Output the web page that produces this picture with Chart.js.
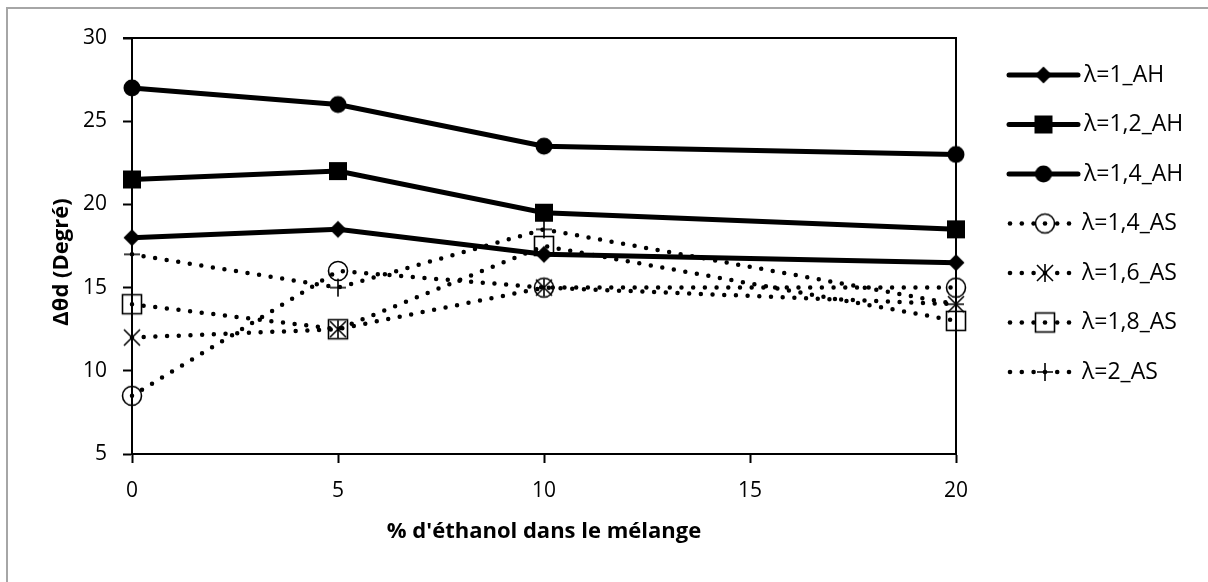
<!DOCTYPE html>
<html>
<head>
<meta charset="utf-8">
<title>Δθd vs % d'éthanol</title>
<script src="https://cdn.jsdelivr.net/npm/chart.js@4.4.1/dist/chart.umd.min.js"></script>
<style>
  html, body { margin: 0; padding: 0; background: #fff; }
  #wrap { width: 1208px; height: 582px; }
</style>
</head>
<body>
<div id="wrap"><canvas id="chart" width="1208" height="582"></canvas></div>
<script>
// data
const xValues = [0, 5, 10, 20];
const seriesNames = ['λ=1_AH', 'λ=1,2_AH', 'λ=1,4_AH', 'λ=1,4_AS', 'λ=1,6_AS', 'λ=1,8_AS', 'λ=2_AS'];
const ah10 = [18, 18.5, 17, 16.5];
const ah12 = [21.5, 22, 19.5, 18.5];
const ah14 = [27, 26, 23.5, 23];
const as14 = [8.5, 16, 15, 15];
const as16 = [12, 12.5, 15, 14];
const as18 = [14, 12.5, 17.5, 13];
const as20 = [17, 15, 18.5, 14];
const yTicks = [5, 10, 15, 20, 25, 30];
const xTicks = [0, 5, 10, 15, 20];
const yTitle = 'Δθd (Degré)';
const xTitle = "% d'éthanol dans le mélange";

const FONT = "'Open Sans', 'DejaVu Sans', sans-serif";

// markers drawn once on small canvases, used for points and legend
function makeMarker(kind) {
    const c = document.createElement('canvas');
    c.width = 24; c.height = 24;
    const g = c.getContext('2d');
    const m = 12;
    g.fillStyle = '#000';
    g.strokeStyle = '#000';
    g.lineWidth = 1.6;
    g.beginPath();
    if (kind === 'diamond') {
        g.moveTo(m, m - 8.5); g.lineTo(m + 8.5, m); g.lineTo(m, m + 8.5); g.lineTo(m - 8.5, m);
        g.closePath(); g.fill();
    } else if (kind === 'square') {
        g.fillRect(m - 9, m - 9, 18, 18);
    } else if (kind === 'circle') {
        g.arc(m, m, 8.5, 0, Math.PI * 2); g.fill();
    } else if (kind === 'ocircle') {
        g.arc(m, m, 9.5, 0, Math.PI * 2); g.stroke();
    } else if (kind === 'star') {
        g.moveTo(m - 8, m - 8); g.lineTo(m + 8, m + 8);
        g.moveTo(m + 8, m - 8); g.lineTo(m - 8, m + 8);
        g.moveTo(m, m - 9); g.lineTo(m, m + 9);
        g.stroke();
    } else if (kind === 'osquare') {
        g.strokeRect(m - 9.5, m - 9.5, 19, 19);
    } else if (kind === 'plus') {
        g.moveTo(m, m - 9); g.lineTo(m, m + 9);
        g.moveTo(m - 8, m); g.lineTo(m + 8, m);
        g.stroke();
    }
    return c;
}

const markerKinds = ['diamond', 'square', 'circle', 'ocircle', 'star', 'osquare', 'plus'];
const markers = markerKinds.map(makeMarker);
const allValues = [ah10, ah12, ah14, as14, as16, as18, as20];
const dotted = [false, false, false, true, true, true, true];

const datasets = allValues.map((vals, i) => ({
    label: seriesNames[i],
    data: vals.map((v, j) => ({ x: xValues[j], y: v })),
    borderColor: '#000',
    backgroundColor: '#000',
    borderWidth: dotted[i] ? 4.5 : 5,
    borderDash: dotted[i] ? [0, 11.7] : [],
    borderCapStyle: dotted[i] ? 'round' : 'butt',
    pointStyle: markers[i],
    pointRadius: 10,
    pointHoverRadius: 10,
    tension: 0,
    clip: false
}));

// frame, plot area border, y title and legend
const decor = {
    id: 'decor',
    beforeDraw(chart) {
        const ctx = chart.ctx;
        ctx.save();
        ctx.fillStyle = '#fff';
        ctx.fillRect(0, 0, chart.width, chart.height);
        ctx.strokeStyle = '#a6a6a6';
        ctx.lineWidth = 2;
        ctx.beginPath();
        ctx.moveTo(7, chart.height);
        ctx.lineTo(7, 8);
        ctx.lineTo(chart.width, 8);
        ctx.stroke();
        ctx.restore();
    },
    beforeDatasetsDraw(chart) {
        const a = chart.chartArea;
        const ctx = chart.ctx;
        ctx.save();
        ctx.strokeStyle = '#000';
        ctx.lineWidth = 2;
        ctx.beginPath();
        ctx.moveTo(a.left - 9, a.top);
        ctx.lineTo(a.right, a.top);
        ctx.lineTo(a.right, a.bottom);
        ctx.stroke();
        ctx.restore();
    },
    afterDraw(chart) {
        const ctx = chart.ctx;
        ctx.save();
        // y axis title, sits a bit below the plot centre like the original
        ctx.translate(62, 262);
        ctx.rotate(-Math.PI / 2);
        ctx.font = 'bold 22px ' + FONT;
        ctx.fillStyle = '#000';
        ctx.textAlign = 'center';
        ctx.textBaseline = 'middle';
        ctx.fillText(yTitle, 0, 0);
        ctx.restore();

        ctx.save();
        ctx.font = '23px ' + FONT;
        ctx.fillStyle = '#000';
        ctx.textBaseline = 'middle';
        seriesNames.forEach((name, i) => {
            const y = 75 + i * 49.5;
            if (dotted[i]) {
                for (let k = 0; k < 6; k++) {
                    if (k === 3) continue;
                    ctx.beginPath();
                    ctx.arc(1010 + k * 11.8, y, 2.3, 0, Math.PI * 2);
                    ctx.fill();
                }
                ctx.beginPath();
                ctx.arc(1045, y, 2.3, 0, Math.PI * 2);
                ctx.fill();
                ctx.drawImage(markers[i], 1045 - 12, y - 12);
                ctx.fillText(name, 1082, y);
            } else {
                ctx.strokeStyle = '#000';
                ctx.lineWidth = 5;
                ctx.lineCap = 'round';
                ctx.beginPath();
                ctx.moveTo(1009, y);
                ctx.lineTo(1078, y);
                ctx.stroke();
                ctx.drawImage(markers[i], 1043.5 - 12, y - 12);
                ctx.fillText(name, 1084, y);
            }
        });
        ctx.restore();
    }
};

const ctx = document.getElementById('chart').getContext('2d');
const chart = new Chart(ctx, {
    type: 'line',
    data: { datasets: datasets },
    options: {
        responsive: false,
        animation: false,
        layout: { padding: { top: 38, right: 252, bottom: 0, left: 0 } },
        plugins: {
            legend: { display: false },
            tooltip: { enabled: false }
        },
        scales: {
            x: {
                type: 'linear',
                min: xTicks[0],
                max: xTicks[xTicks.length - 1],
                afterBuildTicks: s => { s.ticks = xTicks.map(v => ({ value: v })); },
                afterFit: s => { s.height = 128; },
                ticks: { color: '#000', padding: 15, font: { family: FONT, size: 21 } },
                grid: { drawOnChartArea: false, tickLength: 9, tickWidth: 2, tickColor: '#000' },
                border: { color: '#000', width: 2 },
                title: {
                    display: true,
                    text: xTitle,
                    color: '#000',
                    font: { family: FONT, size: 22, weight: 'bold' },
                    padding: { top: 0, bottom: 37 }
                }
            },
            y: {
                min: yTicks[0],
                max: yTicks[yTicks.length - 1],
                afterBuildTicks: s => { s.ticks = yTicks.map(v => ({ value: v })); },
                afterFit: s => { s.width = 132; },
                ticks: { color: '#000', padding: 16, font: { family: FONT, size: 21 } },
                grid: { drawOnChartArea: false, tickLength: 9, tickWidth: 2, tickColor: '#000' },
                border: { color: '#000', width: 2 }
            }
        }
    },
    plugins: [decor]
});
</script>
</body>
</html>
